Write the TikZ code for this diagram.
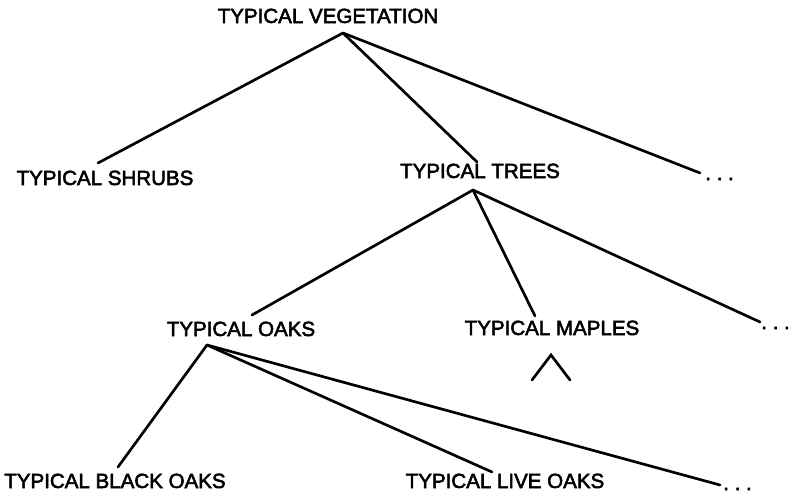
\documentclass[tikz,border=0pt]{standalone}
\usepackage{fontspec}
\setmainfont{Liberation Sans}[AutoFakeBold=2.6]
\tikzset{
  lbl/.style={anchor=base, inner sep=0pt, font=\fontsize{15.4}{17}\selectfont\bfseries},
  more/.style={anchor=base west, inner sep=0pt, font=\fontsize{15.4}{17}\selectfont\bfseries},
  branch/.style={line width=2pt, line cap=round, line join=miter}
}
\begin{document}
\begin{tikzpicture}[x=0.75pt,y=-0.75pt]
    \useasboundingbox (0,0) rectangle (789,493);
    % labels, one level at a time
    \node[lbl] (veg) at (328,23) {TYPICAL VEGETATION};
    \node[lbl] (shrubs) at (105,185) {TYPICAL SHRUBS};
    \node[lbl] (trees) at (480,178) {TYPICAL TREES};
    \node[more] (more1) at (705,180) {.\ .\ .};
    \node[lbl] (oaks) at (241,336) {TYPICAL OAKS};
    \node[lbl] (maples) at (552,335) {TYPICAL MAPLES};
    \node[more] (more2) at (761,329) {.\ .\ .};
    \node[lbl] (blackoaks) at (115,488) {TYPICAL BLACK OAKS};
    \node[lbl] (liveoaks) at (505,488) {TYPICAL LIVE OAKS};
    \node[more] (more3) at (723,490) {.\ .\ .};
    % where the branches meet
    \coordinate (vegJ) at (343,33);
    \coordinate (treesJ) at (473,190);
    \coordinate (oaksJ) at (207,345);
    \coordinate (shrubsE) at (98,163);
    \coordinate (treesE) at (477,162);
    \coordinate (more1E) at (700,173);
    \coordinate (oaksE) at (252,315);
    \coordinate (maplesE) at (535,316);
    \coordinate (more2E) at (760,322);
    \coordinate (blackoaksE) at (118,467);
    \coordinate (liveoaksE) at (492,472);
    \coordinate (more3E) at (720,485);
    \foreach \e in {shrubsE,treesE,more1E}
      \draw[branch] (vegJ) -- (\e);
    \foreach \e in {oaksE,maplesE,more2E}
      \draw[branch] (treesJ) -- (\e);
    \foreach \e in {blackoaksE,liveoaksE,more3E}
      \draw[branch] (oaksJ) -- (\e);
    % collapsed subtree under the maples
    \coordinate (maplesC) at (551,355);
    \coordinate (maplesL) at (532,380);
    \coordinate (maplesR) at (570,380);
    \draw[branch] (maplesL) -- (maplesC) -- (maplesR);
\end{tikzpicture}
\end{document}
